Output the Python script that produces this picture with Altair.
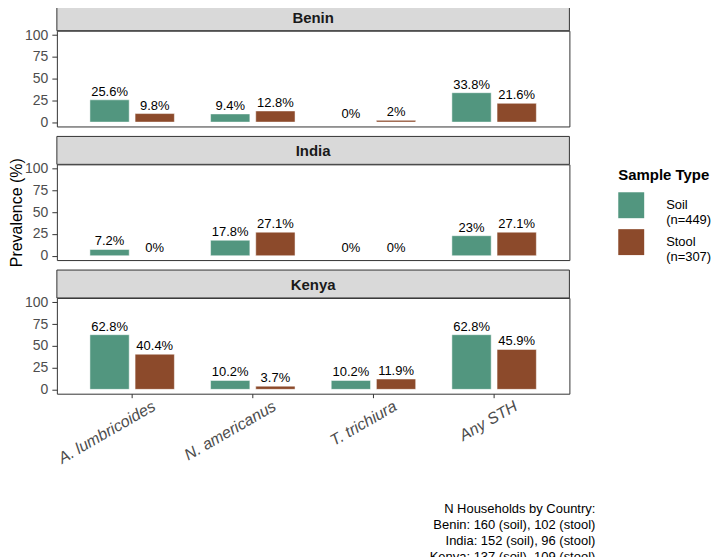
import altair as alt
import pandas as pd

countries = ["Benin", "India", "Kenya"]
organisms = ["A. lumbricoides", "N. americanus", "T. trichiura", "Any STH"]
sample_types = ["Soil|(n=449)", "Stool|(n=307)"]
soil_values = {
    "Benin": [25.6, 9.4, 0, 33.8],
    "India": [7.2, 17.8, 0, 23],
    "Kenya": [62.8, 10.2, 10.2, 62.8],
}
stool_values = {
    "Benin": [9.8, 12.8, 2, 21.6],
    "India": [0, 27.1, 0, 27.1],
    "Kenya": [40.4, 3.7, 11.9, 45.9],
}
y_ticks = [0, 25, 50, 75, 100]
caption = [
    "N Households by Country:",
    "Benin: 160 (soil), 102 (stool)",
    "India: 152 (soil), 96 (stool)",
    "Kenya: 137 (soil), 109 (stool)",
]
colors = ["#52967F", "#8C4A2B"]

rows = []
for c in countries:
    for s, vals in zip(sample_types, [soil_values[c], stool_values[c]]):
        for o, v in zip(organisms, vals):
            rows.append({"country": c, "organism": o, "sample": s, "value": v,
                         "label": f"{v:g}%"})
df = pd.DataFrame(rows)

FONT = "Liberation Sans"
W, H, SH, GAP = 514, 96, 28, 10
VIEW = alt.ViewBackground(stroke="#333333", strokeWidth=1, fill="white")
VIEW_STRIP = alt.ViewBackground(stroke="transparent", strokeWidth=0, fill="transparent")


def strip(country, top):
    d = pd.DataFrame({"country": [country]})
    box = alt.Chart(d).mark_rect(fill="#D9D9D9", stroke="#333333", strokeWidth=1).encode(
        x=alt.value(0), x2=alt.value(W), y=alt.value(top), y2=alt.value(top + SH))
    txt = alt.Chart(d).mark_text(font=FONT, fontSize=15, fontWeight="bold", color="#1A1A1A").encode(
        text="country:N", x=alt.value(W / 2), y=alt.value(top + SH / 2 + 1))
    return (box + txt).properties(width=W, height=top + SH, view=VIEW_STRIP)


def panel(country, show_x, show_ytitle):
    d = df[df.country == country]
    xscale = alt.Scale(paddingInner=0.3, paddingOuter=0.274)
    if show_x:
        xenc = alt.X("organism:N", sort=organisms, scale=xscale,
                     axis=alt.Axis(title=None, labelAngle=-30, labelAlign="right",
                                   labelBaseline="top", labelFontStyle="italic",
                                   labelFontSize=16, labelColor="#4D4D4D", labelFont=FONT,
                                   tickColor="#333333", tickSize=4, domain=False,
                                   labelPadding=0, labelOffset=18))
    else:
        xenc = alt.X("organism:N", sort=organisms, scale=xscale, axis=None)
    yaxis = alt.Axis(values=y_ticks, title="Prevalence (%)" if show_ytitle else None,
                     titleFontSize=16, titleFont=FONT, titleFontWeight="normal",
                     titleColor="black", labelFontSize=14, labelColor="#4D4D4D",
                     labelFont=FONT, tickColor="#333333", tickSize=5, grid=False,
                     domain=False, labelPadding=4, titlePadding=0)
    base = alt.Chart(d).encode(
        x=xenc,
        xOffset=alt.XOffset("sample:N", sort=sample_types,
                            scale=alt.Scale(paddingInner=0.13, paddingOuter=0)),
        y=alt.Y("value:Q", scale=alt.Scale(domain=[-5, 105], nice=False, zero=False),
                axis=yaxis),
    )
    bars = base.mark_bar(stroke="white", strokeWidth=0.5).encode(
        y2=alt.datum(0),
        color=alt.Color("sample:N", sort=sample_types,
                        scale=alt.Scale(domain=sample_types, range=colors),
                        legend=alt.Legend(title="Sample Type", orient="none",
                                          legendX=563, legendY=166,
                                          labelExpr="split(datum.label, '|')",
                                          titleFontSize=15, titleFontWeight="bold",
                                          titleFont=FONT, titleColor="black",
                                          titlePadding=9,
                                          labelFont=FONT, labelFontSize=13,
                                          labelColor="black", symbolType="square",
                                          symbolSize=676, symbolStrokeWidth=0,
                                          rowPadding=2, labelOffset=22)),
    )
    text = base.mark_text(baseline="bottom", dy=-1, fontSize=13, font=FONT,
                          color="black").encode(text="label:N")
    return (bars + text).properties(width=W, height=H, view=VIEW)


charts = []
for i, c in enumerate(countries):
    charts.append(strip(c, 0 if i == 0 else GAP))
    charts.append(panel(c, i == 2, i == 1))

chart = alt.vconcat(*charts, spacing=0, bounds="flush").properties(
    title=alt.TitleParams(text=caption, orient="bottom", anchor="end", align="right",
                          frame="group", dx=26,
                          fontSize=13, fontWeight="normal", color="black", font=FONT,
                          lineHeight=16, offset=37),
    padding={"left": 0, "top": -7, "right": 0, "bottom": 0},
).configure(background="white")

chart.save("out.html", embed_options={"renderer": "svg", "actions": False})
